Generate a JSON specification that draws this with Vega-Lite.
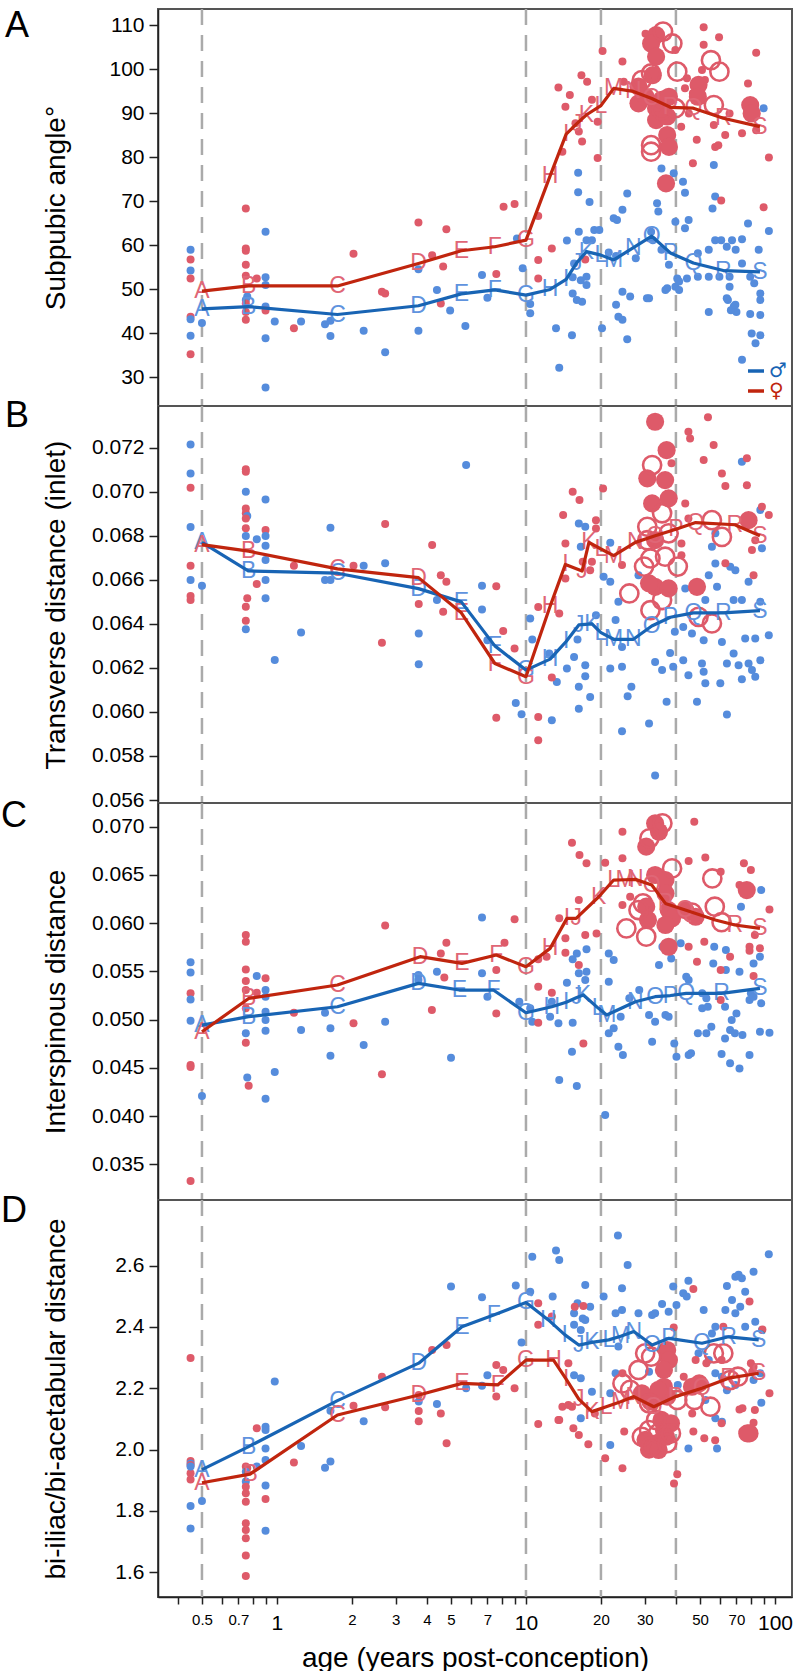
{
"$schema":"https://vega.github.io/schema/vega-lite/v6.json",
"background":"white",
"padding":{"left":0,"top":6,"right":0,"bottom":0},
"bounds":"flush",
"spacing":0,
"config":{"view":{"stroke":"#555","strokeWidth":2},"font":"Liberation Sans","axis":{"labelFont":"Liberation Sans","titleFont":"Liberation Sans","labelColor":"#000","titleColor":"#000","titleFontWeight":"normal","domainColor":"#222","tickColor":"#222","domainWidth":1.5,"tickWidth":1.5,"grid":false,"labelOverlap":false},"title":{"font":"Liberation Sans","fontWeight":"normal","color":"#000"}},
"resolve":{"scale":{"color":"independent"},"legend":{"color":"independent"}},
"datasets":{
"a":[{"s":"m","x":0.45,"y":58.9},{"s":"f","x":0.45,"y":56.7},{"s":"m","x":0.45,"y":54.2},{"s":"f","x":0.45,"y":52.4},{"s":"f","x":0.45,"y":43.7},{"s":"m","x":0.45,"y":43.1},{"s":"m","x":0.45,"y":39.4},{"s":"f","x":0.45,"y":35.2},{"s":"m","x":0.5,"y":42.3},{"s":"f","x":0.75,"y":68.3},{"s":"f","x":0.75,"y":59.2},{"s":"f","x":0.75,"y":58.7},{"s":"f","x":0.75,"y":55.5},{"s":"f","x":0.75,"y":53.0},{"s":"f","x":0.83,"y":52.4},{"s":"m","x":0.76,"y":48.3},{"s":"m","x":0.75,"y":47.5},{"s":"f","x":0.75,"y":46.7},{"s":"f","x":0.75,"y":44.8},{"s":"f","x":0.75,"y":43.0},{"s":"m","x":0.9,"y":63.0},{"s":"m","x":0.9,"y":52.7},{"s":"m","x":0.9,"y":50.9},{"s":"m","x":0.9,"y":46.0},{"s":"f","x":0.9,"y":45.1},{"s":"m","x":0.9,"y":38.8},{"s":"m","x":0.9,"y":27.6},{"s":"m","x":0.98,"y":42.6},{"s":"f","x":1.17,"y":41.1},{"s":"m","x":1.25,"y":42.6},{"s":"m","x":1.56,"y":42.0},{"s":"m","x":1.64,"y":42.8},{"s":"m","x":1.64,"y":39.3},{"s":"f","x":2.03,"y":58.0},{"s":"m","x":2.23,"y":40.5},{"s":"f","x":2.64,"y":49.4},{"s":"f","x":2.72,"y":49.0},{"s":"m","x":2.72,"y":35.6},
{"s":"m","x":3.7,"y":54.5},{"s":"m","x":3.7,"y":40.5},{"s":"m","x":4.39,"y":49.8},{"s":"m","x":4.96,"y":45.1},{"s":"m","x":5.71,"y":41.6},{"s":"m","x":6.66,"y":53.2},{"s":"m","x":7.0,"y":48.0},{"s":"m","x":9.2,"y":61.5},{"s":"m","x":9.7,"y":54.7},{"s":"m","x":10.4,"y":46.6},{"s":"m","x":10.4,"y":44.5},{"s":"m","x":13.2,"y":41.1},{"s":"m","x":13.6,"y":32.1},{"s":"m","x":15.3,"y":39.5},{"s":"m","x":14.6,"y":61.0},{"s":"m","x":16.2,"y":76.4},{"s":"m","x":16.2,"y":72.0},{"s":"m","x":18,"y":69.8},{"s":"m","x":15.4,"y":52.7},{"s":"m","x":16.6,"y":52.0},{"s":"m","x":17.5,"y":50.9},{"s":"m","x":15.4,"y":49.0},{"s":"m","x":16,"y":47.5},{"s":"m","x":16.8,"y":47.1},{"s":"m","x":15.6,"y":55.8},{"s":"m","x":17.5,"y":52.8},{"s":"m","x":18.8,"y":63.4},{"s":"m","x":17.5,"y":61.1},{"s":"m","x":16.3,"y":63.0},{"s":"m","x":20.2,"y":41.1},{"s":"m","x":21.5,"y":58.3},{"s":"m","x":23,"y":57.5},{"s":"m","x":27.6,"y":57.0},{"s":"m","x":25.5,"y":38.6},{"s":"m","x":31.2,"y":47.9},
{"s":"m","x":25.5,"y":71.7},{"s":"m","x":24.4,"y":68.0},{"s":"m","x":22.5,"y":66.1},{"s":"m","x":23.2,"y":65.7},{"s":"m","x":19.7,"y":63.4},{"s":"m","x":18.4,"y":61.1},{"s":"m","x":33.6,"y":69.5},{"s":"m","x":34,"y":67.6},{"s":"m","x":35,"y":77.4},{"s":"m","x":39.2,"y":76.3},{"s":"m","x":42.7,"y":74.4},{"s":"m","x":43.5,"y":71.9},{"s":"m","x":39.8,"y":65.3},{"s":"m","x":45,"y":65.7},{"s":"m","x":43.5,"y":63.8},{"s":"m","x":56.8,"y":78.2},{"s":"m","x":57.5,"y":71.0},{"s":"m","x":56.1,"y":68.3},{"s":"m","x":77.9,"y":64.9},{"s":"m","x":90,"y":91.1},{"s":"m","x":94.5,"y":63.2},{"s":"m","x":60.8,"y":61.1},{"s":"m","x":67.2,"y":61.1},{"s":"m","x":73.7,"y":61.3},{"s":"m","x":86,"y":58.9},{"s":"m","x":31.8,"y":63.0},{"s":"m","x":32.3,"y":61.1},{"s":"m","x":35,"y":58.9},{"s":"m","x":37.5,"y":55.5},{"s":"m","x":40.5,"y":52.4},{"s":"m","x":41.2,"y":51.7},{"s":"m","x":39.8,"y":50.5},{"s":"m","x":36.3,"y":49.8},{"s":"m","x":41.2,"y":49.8},{"s":"m","x":44.3,"y":52.4},{"s":"m","x":49,"y":52.8},{"s":"m","x":54.2,"y":52.8},{"s":"m","x":59.8,"y":52.8},{"s":"m","x":65.7,"y":52.8},{"s":"m","x":49,"y":58.1},{"s":"m","x":54.2,"y":58.9},{"s":"m","x":57.5,"y":61.1},{"s":"m","x":64,"y":59.6},{"s":"m","x":69.5,"y":58.9},{"s":"m","x":73.7,"y":55.8},{"s":"m","x":79.5,"y":52.8},{"s":"m","x":82.5,"y":51.3},{"s":"m","x":65.7,"y":50.5},{"s":"m","x":64.7,"y":47.5},{"s":"m","x":54.2,"y":44.8},{"s":"m","x":68.3,"y":46.0},{"s":"m","x":70,"y":44.8},{"s":"m","x":79.5,"y":44.3},{"s":"m","x":87.3,"y":44.1},{"s":"m","x":87.3,"y":49.0},{"s":"m","x":87.3,"y":47.5},{"s":"m","x":80.6,"y":39.9},{"s":"m","x":87.3,"y":39.5},{"s":"m","x":26.2,"y":48.3},{"s":"m","x":24.4,"y":49.4},{"s":"m","x":23,"y":46.4},{"s":"m","x":23.5,"y":43.7},{"s":"m","x":24.4,"y":43.0},{"s":"m","x":30.6,"y":47.9},{"s":"m","x":36.9,"y":50.2},{"s":"m","x":73.7,"y":33.9},{"s":"m","x":83.5,"y":37.7},{"s":"m","x":64,"y":47.9},{"s":"m","x":66.5,"y":45.2},{"s":"m","x":69.3,"y":46.4},
{"s":"f","x":3.7,"y":65.1},{"s":"f","x":4.2,"y":57.7},{"s":"f","x":4.79,"y":63.6},{"s":"f","x":4.65,"y":55.1},{"s":"f","x":4.55,"y":46.7},{"s":"f","x":7.6,"y":53.4},{"s":"f","x":8.13,"y":68.7},{"s":"f","x":9.0,"y":69.3},{"s":"f","x":11.2,"y":66.6},{"s":"f","x":12.7,"y":59.2},{"s":"f","x":11.2,"y":56.6},{"s":"f","x":11.2,"y":52.4},{"s":"f","x":17.3,"y":56.7},
{"s":"f","x":13.5,"y":95.8},{"s":"f","x":15.0,"y":94.1},{"s":"f","x":14.4,"y":91.4},{"s":"f","x":16.7,"y":98.6},{"s":"f","x":17.6,"y":97.1},{"s":"f","x":18.4,"y":93.0},{"s":"f","x":20.3,"y":104.1},{"s":"f","x":19.4,"y":88.0},{"s":"f","x":15.8,"y":87.7},{"s":"f","x":16.3,"y":85.8},{"s":"f","x":16.8,"y":83.5},{"s":"f","x":14,"y":81.2},{"s":"f","x":19.4,"y":79.8},{"s":"f","x":24.4,"y":101.7},{"s":"f","x":24.7,"y":97.1},{"s":"f","x":30.2,"y":108.0},{"s":"f","x":39.8,"y":104.3},{"s":"f","x":51.7,"y":109.5},{"s":"f","x":59.6,"y":107.2},{"s":"f","x":51.7,"y":105.5},{"s":"f","x":50.9,"y":99.8},{"s":"f","x":44.3,"y":97.9},{"s":"f","x":43.5,"y":95.6},{"s":"f","x":52.3,"y":97.5},{"s":"f","x":46.8,"y":94.5},{"s":"f","x":45.1,"y":89.9},{"s":"f","x":42,"y":86.9},{"s":"f","x":48.5,"y":83.9},{"s":"f","x":46.8,"y":78.6},{"s":"f","x":57.5,"y":82.3},{"s":"f","x":59.2,"y":82.7},{"s":"f","x":56.8,"y":87.3},{"s":"f","x":63.1,"y":85.0},{"s":"f","x":73.7,"y":85.4},{"s":"f","x":65.7,"y":89.9},{"s":"f","x":77.9,"y":96.7},{"s":"f","x":84,"y":103.7},{"s":"f","x":84,"y":86.1},{"s":"f","x":94.5,"y":79.9},{"s":"f","x":90,"y":68.6},{"s":"f","x":60.8,"y":70.1},
{"s":"f","x":33.3,"y":107.7,"k":"b"},{"s":"f","x":31.8,"y":105.8,"k":"b"},{"s":"f","x":33.3,"y":102.8,"k":"b"},{"s":"f","x":32.3,"y":98.6,"k":"b"},{"s":"f","x":28.3,"y":96.0,"k":"b"},{"s":"f","x":28.3,"y":92.2,"k":"b"},{"s":"f","x":30.2,"y":93.7,"k":"b"},{"s":"f","x":33.3,"y":91.1,"k":"b"},{"s":"f","x":35.0,"y":93.0,"k":"b"},{"s":"f","x":37.5,"y":93.7,"k":"b"},{"s":"f","x":33.3,"y":88.4,"k":"b"},{"s":"f","x":36.9,"y":89.2,"k":"b"},{"s":"f","x":36.9,"y":85.0,"k":"b"},{"s":"f","x":37.5,"y":82.3,"k":"b"},{"s":"f","x":49.3,"y":96.4,"k":"b"},{"s":"f","x":49,"y":93.7,"k":"b"},{"s":"f","x":79.5,"y":91.8,"k":"b"},{"s":"f","x":80.6,"y":89.9,"k":"b"},{"s":"f","x":36.5,"y":74.0,"k":"b"},
{"s":"f","x":35.5,"y":108.5,"k":"o"},{"s":"f","x":38.7,"y":105.8,"k":"o"},{"s":"f","x":31.8,"y":99.0,"k":"o"},{"s":"f","x":29.2,"y":97.5,"k":"o"},{"s":"f","x":35,"y":90.7,"k":"o"},{"s":"f","x":39.8,"y":91.1,"k":"o"},{"s":"f","x":31.8,"y":82.7,"k":"o"},{"s":"f","x":31.8,"y":81.2,"k":"o"},{"s":"f","x":40.5,"y":99.4,"k":"o"},{"s":"f","x":55.3,"y":102.0,"k":"o"},{"s":"f","x":59.8,"y":99.4,"k":"o"},{"s":"f","x":56.8,"y":91.8,"k":"o"}],
"la":[{"s":"m","l":"A","x":0.5,"y":45.5},{"s":"m","l":"B","x":0.77,"y":46.0},{"s":"m","l":"C","x":1.75,"y":44.2},{"s":"m","l":"D","x":3.7,"y":46.2},{"s":"m","l":"E","x":5.5,"y":48.9},{"s":"m","l":"F","x":7.5,"y":49.8},{"s":"m","l":"G","x":10,"y":48.6},{"s":"m","l":"H","x":12.5,"y":49.9},{"s":"m","l":"I","x":14.5,"y":52.2},{"s":"m","l":"J","x":16,"y":56.0},{"s":"m","l":"K","x":17.5,"y":58.5},{"s":"m","l":"L","x":20,"y":57.7},{"s":"m","l":"M","x":22.5,"y":56.6},{"s":"m","l":"N","x":27,"y":59.4},{"s":"m","l":"O","x":32,"y":62.0},{"s":"m","l":"P","x":38,"y":58.2},{"s":"m","l":"Q","x":47,"y":55.9},{"s":"m","l":"R","x":62,"y":54.2},{"s":"m","l":"S","x":87,"y":53.9},
{"s":"f","l":"A","x":0.5,"y":49.5},{"s":"f","l":"B","x":0.77,"y":50.7},{"s":"f","l":"C","x":1.75,"y":50.7},{"s":"f","l":"D","x":3.7,"y":55.8},{"s":"f","l":"E","x":5.5,"y":58.7},{"s":"f","l":"F","x":7.5,"y":59.6},{"s":"f","l":"G","x":10,"y":61.1},{"s":"f","l":"H","x":12.5,"y":75.7},{"s":"f","l":"I","x":14.5,"y":85.2},{"s":"f","l":"J","x":16,"y":87.6},{"s":"f","l":"K","x":17.5,"y":89.6},{"s":"f","l":"L","x":20,"y":91.7},{"s":"f","l":"M","x":22.5,"y":95.6},{"s":"f","l":"N","x":27,"y":94.9},{"s":"f","l":"O","x":32,"y":93.3},{"s":"f","l":"P","x":38,"y":91.3},{"s":"f","l":"Q","x":47,"y":91.1},{"s":"f","l":"R","x":62,"y":88.8},{"s":"f","l":"S","x":87,"y":86.9}],
"b":[{"s":"m","x":0.45,"y":0.07215},{"s":"m","x":0.45,"y":0.07083},{"s":"f","x":0.45,"y":0.07018},{"s":"m","x":0.45,"y":0.0684},{"s":"f","x":0.45,"y":0.06664},{"s":"m","x":0.45,"y":0.06599},{"s":"f","x":0.45,"y":0.06526},{"s":"f","x":0.45,"y":0.06508},{"s":"m","x":0.5,"y":0.06573},{"s":"f","x":0.75,"y":0.07102},{"s":"f","x":0.75,"y":0.07091},{"s":"m","x":0.75,"y":0.07},{"s":"f","x":0.75,"y":0.06924},{"s":"f","x":0.75,"y":0.06902},{"s":"m","x":0.76,"y":0.06890},{"s":"f","x":0.75,"y":0.06879},{"s":"f","x":0.75,"y":0.06834},{"s":"m","x":0.75,"y":0.06799},{"s":"m","x":0.83,"y":0.06784},{"s":"f","x":0.76,"y":0.06516},{"s":"f","x":0.75,"y":0.06478},{"s":"f","x":0.75,"y":0.06414},{"s":"m","x":0.75,"y":0.06375},{"s":"f","x":0.83,"y":0.06581},{"s":"m","x":0.9,"y":0.06965},{"s":"f","x":0.9,"y":0.06826},{"s":"m","x":0.9,"y":0.06799},{"s":"m","x":0.9,"y":0.06755},{"s":"m","x":0.9,"y":0.0669},{"s":"m","x":0.9,"y":0.06599},{"s":"m","x":0.9,"y":0.06516},{"s":"m","x":0.98,"y":0.06236},{"s":"f","x":1.17,"y":0.06664},{"s":"m","x":1.25,"y":0.06361},{"s":"m","x":1.56,"y":0.06599},{"s":"m","x":1.64,"y":0.06599},{"s":"m","x":1.64,"y":0.06837},{"s":"f","x":2.03,"y":0.06664},{"s":"m","x":2.23,"y":0.06664},{"s":"f","x":2.72,"y":0.06853},{"s":"m","x":2.72,"y":0.06675},{"s":"f","x":2.64,"y":0.06314},
{"s":"m","x":5.75,"y":0.07121},{"s":"m","x":3.71,"y":0.06356},{"s":"m","x":3.71,"y":0.06217},{"s":"m","x":4.39,"y":0.06508},{"s":"m","x":6.66,"y":0.06573},{"s":"m","x":6.66,"y":0.06465},{"s":"m","x":7.0,"y":0.06326},{"s":"m","x":9.1,"y":0.06041},{"s":"m","x":9.6,"y":0.05989},{"s":"m","x":10.4,"y":0.06424},{"s":"m","x":10.6,"y":0.06329},{"s":"m","x":12.4,"y":0.06265},{"s":"m","x":13.3,"y":0.06136},{"s":"m","x":12.7,"y":0.05962},{"s":"m","x":14.6,"y":0.06197},{"s":"m","x":15.6,"y":0.0625},{"s":"m","x":16.3,"y":0.06114},{"s":"m","x":16.3,"y":0.06015},{"s":"m","x":16.3,"y":0.06856},{"s":"m","x":17.3,"y":0.06841},{"s":"m","x":16.6,"y":0.0675},{"s":"m","x":16.1,"y":0.06329},{"s":"m","x":17.3,"y":0.06212},{"s":"m","x":17.3,"y":0.06162},{"s":"m","x":18.1,"y":0.06068},{"s":"m","x":19.1,"y":0.06439},{"s":"m","x":21.8,"y":0.06768},{"s":"m","x":20.5,"y":0.06614},{"s":"m","x":21.8,"y":0.06591},{"s":"m","x":21.8,"y":0.06197},{"s":"m","x":22.9,"y":0.06417},{"s":"m","x":23.5,"y":0.065},{"s":"m","x":24.3,"y":0.06295},{"s":"m","x":24.3,"y":0.06205},{"s":"m","x":24.3,"y":0.05912},{"s":"m","x":25.6,"y":0.06071},{"s":"m","x":26.5,"y":0.06114},{"s":"m","x":28.3,"y":0.06621},{"s":"m","x":31.2,"y":0.05947},{"s":"m","x":33,"y":0.05711},{"s":"m","x":33,"y":0.06227},{"s":"m","x":35.2,"y":0.0619},{"s":"m","x":36.7,"y":0.06046},{"s":"m","x":37.9,"y":0.06268},{"s":"m","x":39,"y":0.06205},{"s":"m","x":39.6,"y":0.06364},{"s":"m","x":42.8,"y":0.06386},{"s":"m","x":42.8,"y":0.06235},{"s":"m","x":44.9,"y":0.06167},{"s":"m","x":48.6,"y":0.06046},{"s":"m","x":46.4,"y":0.06356},{"s":"m","x":50.9,"y":0.0622},{"s":"m","x":51.7,"y":0.06182},{"s":"m","x":51.7,"y":0.06326},{"s":"m","x":52.5,"y":0.06508},{"s":"m","x":52.5,"y":0.0613},{"s":"m","x":60.3,"y":0.0613},{"s":"m","x":61.2,"y":0.06318},{"s":"m","x":64.1,"y":0.05988},{"s":"m","x":64.1,"y":0.0622},{"s":"m","x":68.2,"y":0.06265},{"s":"m","x":71.4,"y":0.06212},{"s":"m","x":73.6,"y":0.06148},{"s":"m","x":78.3,"y":0.0622},{"s":"m","x":80.8,"y":0.0619},{"s":"m","x":83.3,"y":0.0616},{"s":"m","x":87.3,"y":0.06235},{"s":"m","x":94.4,"y":0.06348},{"s":"m","x":75.9,"y":0.06333},{"s":"m","x":83.3,"y":0.06333},{"s":"m","x":68.2,"y":0.06508},{"s":"m","x":73.6,"y":0.06508},{"s":"m","x":87.3,"y":0.065},{"s":"m","x":57.6,"y":0.06811},{"s":"m","x":55.8,"y":0.0675},{"s":"m","x":57.6,"y":0.06674},{"s":"m","x":54.2,"y":0.06621},{"s":"m","x":66.1,"y":0.06659},{"s":"m","x":69.3,"y":0.06644},{"s":"m","x":73.6,"y":0.07136},{"s":"m","x":87.3,"y":0.06917},{"s":"m","x":88.6,"y":0.06743},{"s":"m","x":78.3,"y":0.06591},{"s":"m","x":58.5,"y":0.06568},{"s":"m","x":43.6,"y":0.06561},
{"s":"f","x":4.2,"y":0.06758},{"s":"f","x":4.55,"y":0.06621},{"s":"f","x":4.79,"y":0.06591},{"s":"f","x":3.71,"y":0.0649},{"s":"f","x":4.65,"y":0.06455},{"s":"f","x":7.6,"y":0.06571},{"s":"f","x":8.1,"y":0.06368},{"s":"f","x":9.0,"y":0.06288},{"s":"f","x":7.6,"y":0.05974},{"s":"f","x":11.2,"y":0.06477},{"s":"f","x":13.6,"y":0.06447},{"s":"f","x":11.2,"y":0.05977},{"s":"f","x":11.2,"y":0.05871},{"s":"f","x":12.7,"y":0.06156},{"s":"f","x":14.1,"y":0.06894},{"s":"f","x":15.4,"y":0.0700},{"s":"f","x":16.4,"y":0.06962},{"s":"f","x":14.4,"y":0.06765},{"s":"f","x":14.4,"y":0.06606},{"s":"f","x":16.9,"y":0.06682},{"s":"f","x":18.1,"y":0.06644},{"s":"f","x":18.4,"y":0.06682},{"s":"f","x":19.1,"y":0.06871},{"s":"f","x":19.1,"y":0.06833},{"s":"f","x":20.4,"y":0.07015},{"s":"f","x":24.3,"y":0.06667},{"s":"f","x":44.9,"y":0.07273},{"s":"f","x":45.6,"y":0.07242},{"s":"f","x":53.8,"y":0.07338},{"s":"f","x":56.7,"y":0.07212},{"s":"f","x":51.7,"y":0.07144},{"s":"f","x":61.2,"y":0.07083},{"s":"f","x":63.2,"y":0.07026},{"s":"f","x":77.1,"y":0.07152},{"s":"f","x":77.1,"y":0.0703},{"s":"f","x":43.6,"y":0.06947},{"s":"f","x":44.9,"y":0.06879},{"s":"f","x":88.6,"y":0.06932},{"s":"f","x":94.4,"y":0.06894},{"s":"f","x":83.3,"y":0.0678},{"s":"f","x":80.8,"y":0.06735},{"s":"f","x":82,"y":0.06621},{"s":"f","x":63.2,"y":0.06675},{"s":"f","x":42.1,"y":0.06712},{"s":"f","x":42.1,"y":0.06765},{"s":"f","x":38.4,"y":0.07129},
{"s":"f","x":33,"y":0.07318,"k":"b"},{"s":"f","x":36.7,"y":0.07189,"k":"b"},{"s":"f","x":30.7,"y":0.07061,"k":"b"},{"s":"f","x":36.2,"y":0.07053,"k":"b"},{"s":"f","x":32.1,"y":0.06947,"k":"b"},{"s":"f","x":37.4,"y":0.0697,"k":"b"},{"s":"f","x":33,"y":0.0678,"k":"b"},{"s":"f","x":33,"y":0.06568,"k":"b"},{"s":"f","x":31.2,"y":0.06584,"k":"b"},{"s":"f","x":37.4,"y":0.06561,"k":"b"},{"s":"f","x":48.6,"y":0.06568,"k":"b"},{"s":"f","x":78.3,"y":0.06871,"k":"b"},
{"s":"f","x":32.1,"y":0.07121,"k":"o"},{"s":"f","x":30.7,"y":0.06841,"k":"o"},{"s":"f","x":35.2,"y":0.06902,"k":"o"},{"s":"f","x":30.7,"y":0.0678,"k":"o"},{"s":"f","x":37.4,"y":0.06811,"k":"o"},{"s":"f","x":31.6,"y":0.06697,"k":"o"},{"s":"f","x":36.2,"y":0.06705,"k":"o"},{"s":"f","x":29.8,"y":0.0666,"k":"o"},{"s":"f","x":40.7,"y":0.0666,"k":"o"},{"s":"f","x":26,"y":0.06538,"k":"o"},{"s":"f","x":31.6,"y":0.06462,"k":"o"},{"s":"f","x":35.2,"y":0.06508,"k":"o"},{"s":"f","x":55.8,"y":0.06871,"k":"o"},{"s":"f","x":61.2,"y":0.06795,"k":"o"},{"s":"f","x":55.8,"y":0.06402,"k":"o"},{"s":"f","x":49.3,"y":0.06432,"k":"o"}],
"lb":[{"s":"m","l":"A","x":0.5,"y":0.0677},{"s":"m","l":"B","x":0.77,"y":0.0664},{"s":"m","l":"C","x":1.75,"y":0.0663},{"s":"m","l":"D","x":3.7,"y":0.0656},{"s":"m","l":"E","x":5.5,"y":0.0650},{"s":"m","l":"F","x":7.5,"y":0.0630},{"s":"m","l":"G","x":10,"y":0.0619},{"s":"m","l":"H","x":12.5,"y":0.0624},{"s":"m","l":"I","x":14.5,"y":0.0632},{"s":"m","l":"J","x":16.3,"y":0.06395},{"s":"m","l":"K","x":18.4,"y":0.0640},{"s":"m","l":"L","x":20,"y":0.0636},{"s":"m","l":"M","x":22.5,"y":0.0633},{"s":"m","l":"N","x":27,"y":0.0633},{"s":"m","l":"O","x":32,"y":0.0639},{"s":"m","l":"P","x":38,"y":0.0643},{"s":"m","l":"Q","x":47,"y":0.0645},{"s":"m","l":"R","x":62,"y":0.0645},{"s":"m","l":"S","x":87,"y":0.0646},
{"s":"f","l":"A","x":0.5,"y":0.0676},{"s":"f","l":"B","x":0.77,"y":0.0673},{"s":"f","l":"C","x":1.75,"y":0.0665},{"s":"f","l":"D","x":3.7,"y":0.0661},{"s":"f","l":"E","x":5.5,"y":0.0645},{"s":"f","l":"F","x":7.5,"y":0.0622},{"s":"f","l":"G","x":10,"y":0.0616},{"s":"f","l":"H","x":12.5,"y":0.0648},{"s":"f","l":"I","x":14.4,"y":0.0667},{"s":"f","l":"J","x":16.8,"y":0.0664},{"s":"f","l":"K","x":17.9,"y":0.0677},{"s":"f","l":"L","x":20,"y":0.0674},{"s":"f","l":"M","x":22.5,"y":0.0671},{"s":"f","l":"N","x":27.5,"y":0.0677},{"s":"f","l":"O","x":33,"y":0.0680},{"s":"f","l":"P","x":40,"y":0.0683},{"s":"f","l":"Q","x":48,"y":0.0686},{"s":"f","l":"R","x":69,"y":0.0685},{"s":"f","l":"S","x":87,"y":0.0680}],
"c":[{"s":"m","x":0.45,"y":0.05594},{"s":"m","x":0.45,"y":0.0549},{"s":"f","x":0.45,"y":0.05273},{"s":"m","x":0.45,"y":0.0521},{"s":"m","x":0.45,"y":0.04989},{"s":"f","x":0.45,"y":0.0453},{"s":"f","x":0.45,"y":0.0451},{"s":"f","x":0.45,"y":0.03327},{"s":"m","x":0.5,"y":0.04208},{"s":"f","x":0.75,"y":0.05877},{"s":"f","x":0.75,"y":0.05808},{"s":"f","x":0.75,"y":0.05521},{"s":"f","x":0.75,"y":0.054},{"s":"f","x":0.75,"y":0.05307},{"s":"m","x":0.83,"y":0.05452},{"s":"f","x":0.83,"y":0.0528},{"s":"f","x":0.75,"y":0.05117},{"s":"m","x":0.75,"y":0.04858},{"s":"f","x":0.75,"y":0.04761},{"s":"m","x":0.76,"y":0.0440},{"s":"f","x":0.77,"y":0.04315},{"s":"m","x":0.9,"y":0.05307},{"s":"m","x":0.9,"y":0.05238},{"s":"f","x":0.9,"y":0.05428},{"s":"m","x":0.9,"y":0.05083},{"s":"m","x":0.9,"y":0.04996},{"s":"m","x":0.9,"y":0.04886},{"s":"m","x":0.9,"y":0.04181},{"s":"m","x":0.98,"y":0.04457},{"s":"f","x":1.17,"y":0.05072},{"s":"m","x":1.25,"y":0.04892},{"s":"m","x":1.56,"y":0.05072},{"s":"m","x":1.64,"y":0.0491},{"s":"m","x":1.64,"y":0.04626},{"s":"f","x":2.03,"y":0.04962},{"s":"m","x":2.23,"y":0.04737},{"s":"f","x":2.72,"y":0.05977},{"s":"m","x":2.72,"y":0.04979},{"s":"f","x":2.64,"y":0.04433},
{"s":"m","x":6.66,"y":0.0606},{"s":"m","x":3.7,"y":0.05462},{"s":"m","x":3.7,"y":0.05411},{"s":"m","x":4.39,"y":0.05497},{"s":"m","x":5.0,"y":0.04606},{"s":"m","x":6.66,"y":0.0548},{"s":"m","x":7.0,"y":0.05238},{"s":"m","x":9.4,"y":0.05186},{"s":"m","x":10.4,"y":0.05117},{"s":"m","x":10.6,"y":0.04979},{"s":"m","x":12.7,"y":0.05186},{"s":"m","x":12.5,"y":0.05031},{"s":"m","x":13.5,"y":0.04962},{"s":"m","x":13.6,"y":0.04374},{"s":"m","x":16,"y":0.04312},{"s":"m","x":20.8,"y":0.04011},{"s":"m","x":15.3,"y":0.04668},{"s":"m","x":15.4,"y":0.04968},{"s":"m","x":14.6,"y":0.05383},{"s":"m","x":15.4,"y":0.05625},{"s":"m","x":16,"y":0.05687},{"s":"m","x":17.5,"y":0.05729},{"s":"m","x":16.3,"y":0.0548},{"s":"m","x":17.3,"y":0.05411},{"s":"m","x":17.5,"y":0.05497},{"s":"m","x":21.5,"y":0.05687},{"s":"m","x":22.5,"y":0.05618},{"s":"m","x":21.5,"y":0.05393},{"s":"m","x":21.5,"y":0.04858},{"s":"m","x":22.5,"y":0.0491},{"s":"m","x":23.5,"y":0.0472},{"s":"m","x":24.5,"y":0.04633},{"s":"m","x":24,"y":0.05031},{"s":"m","x":26,"y":0.05221},{"s":"m","x":28.5,"y":0.05307},{"s":"m","x":31.2,"y":0.05048},{"s":"m","x":33,"y":0.04979},{"s":"m","x":32.1,"y":0.04772},{"s":"m","x":34.2,"y":0.05566},{"s":"m","x":35.3,"y":0.05756},{"s":"m","x":38.3,"y":0.05635},{"s":"m","x":36.3,"y":0.05048},{"s":"m","x":37.4,"y":0.0503},{"s":"m","x":39.4,"y":0.04754},{"s":"m","x":40.2,"y":0.04616},{"s":"m","x":45,"y":0.04633},{"s":"m","x":46,"y":0.04651},{"s":"m","x":41.8,"y":0.05791},{"s":"m","x":45,"y":0.05411},{"s":"m","x":44,"y":0.05445},{"s":"m","x":49,"y":0.04858},{"s":"m","x":53,"y":0.04858},{"s":"m","x":51,"y":0.05117},{"s":"m","x":53.7,"y":0.05134},{"s":"m","x":55.5,"y":0.04927},{"s":"m","x":56.5,"y":0.05583},{"s":"m","x":57,"y":0.05756},{"s":"m","x":63.5,"y":0.05722},{"s":"m","x":63.5,"y":0.05514},{"s":"m","x":63,"y":0.05134},{"s":"m","x":70,"y":0.05065},{"s":"m","x":67,"y":0.04996},{"s":"m","x":66,"y":0.04892},{"s":"m","x":63,"y":0.04806},{"s":"m","x":69,"y":0.04858},{"s":"m","x":74,"y":0.0484},{"s":"m","x":61,"y":0.04644},{"s":"m","x":66,"y":0.04547},{"s":"m","x":72,"y":0.04495},{"s":"m","x":79,"y":0.04633},{"s":"m","x":72,"y":0.05497},{"s":"m","x":82,"y":0.05583},{"s":"m","x":87,"y":0.05653},{"s":"m","x":88,"y":0.06343},{"s":"m","x":73,"y":0.06171},{"s":"m","x":88,"y":0.05169},{"s":"m","x":79,"y":0.05203},{"s":"m","x":87,"y":0.04875},{"s":"m","x":95,"y":0.04865},{"s":"m","x":80,"y":0.05273},{"s":"m","x":82,"y":0.05238},{"s":"m","x":51,"y":0.05273},{"s":"m","x":53,"y":0.05221},
{"s":"f","x":4.19,"y":0.051},{"s":"f","x":4.55,"y":0.05687},{"s":"f","x":4.79,"y":0.05798},{"s":"f","x":4.7,"y":0.05438},{"s":"f","x":7.6,"y":0.05514},{"s":"f","x":8.2,"y":0.05798},{"s":"f","x":7.6,"y":0.05065},{"s":"f","x":9.0,"y":0.0604},{"s":"f","x":11.2,"y":0.05342},{"s":"f","x":12.7,"y":0.0528},{"s":"f","x":11.2,"y":0.04968},{"s":"f","x":11.2,"y":0.05625},{"s":"f","x":12.1,"y":0.05653},{"s":"f","x":13.6,"y":0.0605},{"s":"f","x":14.4,"y":0.05843},{"s":"f","x":14.4,"y":0.05694},{"s":"f","x":15.3,"y":0.06834},{"s":"f","x":16.4,"y":0.06706},{"s":"f","x":17.5,"y":0.0662},{"s":"f","x":20.8,"y":0.06627},{"s":"f","x":16.3,"y":0.0624},{"s":"f","x":17.3,"y":0.05877},{"s":"f","x":19.2,"y":0.05894},{"s":"f","x":16.3,"y":0.05566},{"s":"f","x":17,"y":0.04754},{"s":"f","x":24.4,"y":0.06948},{"s":"f","x":24.4,"y":0.06672},{"s":"f","x":24.4,"y":0.06188},{"s":"f","x":26.2,"y":0.06274},{"s":"f","x":47.4,"y":0.07052},{"s":"f","x":52.5,"y":0.06682},{"s":"f","x":45,"y":0.06644},{"s":"f","x":60.5,"y":0.06534},{"s":"f","x":52,"y":0.05808},{"s":"f","x":45,"y":0.05756},{"s":"f","x":48.6,"y":0.05601},{"s":"f","x":66,"y":0.05653},{"s":"f","x":60.5,"y":0.05203},{"s":"f","x":75,"y":0.0662},{"s":"f","x":80,"y":0.06551},{"s":"f","x":72,"y":0.06395},{"s":"f","x":95,"y":0.06143},{"s":"f","x":79,"y":0.05756},{"s":"f","x":79,"y":0.05715},{"s":"f","x":87,"y":0.05739},{"s":"f","x":83,"y":0.05877},{"s":"f","x":82,"y":0.05452},{"s":"f","x":60.5,"y":0.05514},
{"s":"f","x":30.4,"y":0.06793,"k":"b"},{"s":"f","x":33,"y":0.07035,"k":"b"},{"s":"f","x":34.2,"y":0.06948,"k":"b"},{"s":"f","x":30.4,"y":0.06171,"k":"b"},{"s":"f","x":30.9,"y":0.06033,"k":"b"},{"s":"f","x":33,"y":0.06499,"k":"b"},{"s":"f","x":36.3,"y":0.06447,"k":"b"},{"s":"f","x":36.3,"y":0.06309,"k":"b"},{"s":"f","x":37.4,"y":0.06136,"k":"b"},{"s":"f","x":38.6,"y":0.0605,"k":"b"},{"s":"f","x":36.3,"y":0.05981,"k":"b"},{"s":"f","x":37.4,"y":0.05756,"k":"b"},{"s":"f","x":48,"y":0.06067,"k":"b"},{"s":"f","x":43.6,"y":0.06136,"k":"b"},{"s":"f","x":77,"y":0.06343,"k":"b"},
{"s":"f","x":31.3,"y":0.06879,"k":"o"},{"s":"f","x":35.3,"y":0.07035,"k":"o"},{"s":"f","x":29.5,"y":0.06205,"k":"o"},{"s":"f","x":28.3,"y":0.06136,"k":"o"},{"s":"f","x":25.3,"y":0.05946,"k":"o"},{"s":"f","x":30.4,"y":0.0586,"k":"o"},{"s":"f","x":38.6,"y":0.06568,"k":"o"},{"s":"f","x":56,"y":0.06464,"k":"o"},{"s":"f","x":57.3,"y":0.06171,"k":"o"},{"s":"f","x":46.4,"y":0.0611,"k":"o"},{"s":"f","x":61,"y":0.0601,"k":"o"}],
"lc":[{"s":"m","l":"A","x":0.5,"y":0.04944},{"s":"m","l":"B","x":0.77,"y":0.05031},{"s":"m","l":"C","x":1.75,"y":0.05134},{"s":"m","l":"D","x":3.7,"y":0.05376},{"s":"m","l":"E","x":5.4,"y":0.05307},{"s":"m","l":"F","x":7.4,"y":0.05307},{"s":"m","l":"G","x":10,"y":0.05072},{"s":"m","l":"H","x":12.7,"y":0.05134},{"s":"m","l":"I","x":14.5,"y":0.0518},{"s":"m","l":"J","x":16,"y":0.0523},{"s":"m","l":"K","x":17,"y":0.05255},{"s":"m","l":"L","x":19.5,"y":0.0512},{"s":"m","l":"M","x":21.1,"y":0.05048},{"s":"m","l":"N","x":27.5,"y":0.05186},{"s":"m","l":"O","x":33,"y":0.05238},{"s":"m","l":"P","x":38,"y":0.0525},{"s":"m","l":"Q","x":44,"y":0.05273},{"s":"m","l":"R","x":61,"y":0.05273},{"s":"m","l":"S","x":87,"y":0.05324},
{"s":"f","l":"A","x":0.5,"y":0.04875},{"s":"f","l":"B","x":0.77,"y":0.0522},{"s":"f","l":"C","x":1.75,"y":0.05359},{"s":"f","l":"D","x":3.76,"y":0.05653},{"s":"f","l":"E","x":5.53,"y":0.05583},{"s":"f","l":"F","x":7.6,"y":0.0567},{"s":"f","l":"G","x":10,"y":0.05549},{"s":"f","l":"H","x":12.5,"y":0.05739},{"s":"f","l":"I","x":14.6,"y":0.0605},{"s":"f","l":"J","x":15.9,"y":0.0605},{"s":"f","l":"K","x":19.6,"y":0.06274},{"s":"f","l":"L","x":22.5,"y":0.06447},{"s":"f","l":"M","x":25,"y":0.0645},{"s":"f","l":"N","x":27.5,"y":0.06454},{"s":"f","l":"O","x":32,"y":0.06395},{"s":"f","l":"P","x":36.3,"y":0.06205},{"s":"f","l":"Q","x":43.6,"y":0.06136},{"s":"f","l":"","x":57.6,"y":0.06033},{"s":"f","l":"R","x":69,"y":0.05981},{"s":"f","l":"S","x":87,"y":0.05946}],
"d":[{"s":"f","x":0.45,"y":2.299},{"s":"f","x":0.45,"y":1.963},{"s":"m","x":0.45,"y":1.955},{"s":"f","x":0.45,"y":1.95},{"s":"f","x":0.45,"y":1.923},{"s":"f","x":0.45,"y":1.903},{"s":"m","x":0.45,"y":1.945},{"s":"m","x":0.45,"y":1.816},{"s":"m","x":0.45,"y":1.743},{"s":"m","x":0.5,"y":1.833},{"s":"f","x":0.75,"y":1.945},{"s":"f","x":0.76,"y":1.94},{"s":"m","x":0.75,"y":1.928},{"s":"m","x":0.75,"y":1.896},{"s":"f","x":0.75,"y":1.879},{"s":"f","x":0.75,"y":1.858},{"s":"f","x":0.75,"y":1.83},{"s":"f","x":0.75,"y":1.76},{"s":"f","x":0.75,"y":1.738},{"s":"f","x":0.75,"y":1.711},{"s":"f","x":0.75,"y":1.655},{"s":"f","x":0.75,"y":1.588},{"s":"f","x":0.83,"y":2.07},{"s":"m","x":0.83,"y":1.945},{"s":"m","x":0.9,"y":2.075},{"s":"m","x":0.9,"y":2.064},{"s":"m","x":0.9,"y":2.004},{"s":"m","x":0.9,"y":1.966},{"s":"m","x":0.9,"y":1.883},{"s":"f","x":0.9,"y":1.839},{"s":"m","x":0.9,"y":1.736},{"s":"m","x":0.98,"y":2.222},{"s":"f","x":1.17,"y":1.958},{"s":"m","x":1.25,"y":2.012},{"s":"m","x":1.56,"y":1.941},{"s":"m","x":1.64,"y":1.961},{"s":"m","x":1.64,"y":2.127},{"s":"f","x":2.03,"y":2.143},{"s":"m","x":2.23,"y":2.093},{"s":"f","x":2.64,"y":2.238},{"s":"f","x":2.72,"y":2.138},
{"s":"m","x":5.0,"y":2.532},{"s":"m","x":6.66,"y":2.497},{"s":"m","x":9.1,"y":2.535},{"s":"m","x":10.4,"y":2.515},{"s":"m","x":10.6,"y":2.629},{"s":"m","x":13.2,"y":2.649},{"s":"m","x":13.6,"y":2.618},{"s":"m","x":12.8,"y":2.499},{"s":"m","x":9.6,"y":2.349},{"s":"m","x":7.0,"y":2.243},{"s":"m","x":6.66,"y":2.208},{"s":"m","x":5.75,"y":2.2},{"s":"m","x":4.39,"y":2.149},{"s":"m","x":3.71,"y":2.157},{"s":"m","x":23.4,"y":2.698},{"s":"m","x":25.6,"y":2.602},{"s":"m","x":17.3,"y":2.537},{"s":"m","x":20.5,"y":2.499},{"s":"m","x":24.3,"y":2.526},{"s":"m","x":16.1,"y":2.477},{"s":"m","x":15.6,"y":2.445},{"s":"m","x":18.1,"y":2.466},{"s":"m","x":16.9,"y":2.428},{"s":"m","x":17.3,"y":2.423},{"s":"m","x":15.6,"y":2.407},{"s":"m","x":16.6,"y":2.39},{"s":"m","x":22.9,"y":2.445},{"s":"m","x":24.3,"y":2.455},{"s":"m","x":28.3,"y":2.445},{"s":"m","x":32.1,"y":2.439},{"s":"m","x":33,"y":2.445},{"s":"m","x":35.2,"y":2.475},{"s":"m","x":37.4,"y":2.45},{"s":"m","x":39,"y":2.532},{"s":"m","x":40.2,"y":2.472},{"s":"m","x":42.8,"y":2.51},{"s":"m","x":44.2,"y":2.499},{"s":"m","x":44.9,"y":2.551},{"s":"m","x":51.7,"y":2.455},{"s":"m","x":55.8,"y":2.379},{"s":"m","x":57.6,"y":2.401},{"s":"m","x":64.1,"y":2.534},{"s":"m","x":69.3,"y":2.564},{"s":"m","x":71.4,"y":2.57},{"s":"m","x":73.6,"y":2.559},{"s":"m","x":82,"y":2.58},{"s":"m","x":75.9,"y":2.515},{"s":"m","x":94.4,"y":2.637},{"s":"m","x":63.2,"y":2.455},{"s":"m","x":67.2,"y":2.488},{"s":"m","x":69.3,"y":2.445},{"s":"m","x":72.5,"y":2.466},{"s":"m","x":75.9,"y":2.401},{"s":"m","x":83.3,"y":2.417},{"s":"m","x":88.6,"y":2.39},{"s":"m","x":49.3,"y":2.314},{"s":"m","x":54.2,"y":2.292},{"s":"m","x":57.6,"y":2.249},{"s":"m","x":61.2,"y":2.238},{"s":"m","x":64.1,"y":2.194},{"s":"m","x":69.3,"y":2.211},{"s":"m","x":82,"y":2.227},{"s":"m","x":87.3,"y":2.249},{"s":"m","x":88.1,"y":2.153},{"s":"m","x":44.9,"y":2.004},{"s":"m","x":58.5,"y":2.004},{"s":"m","x":57.6,"y":2.102},{"s":"m","x":61.2,"y":2.091},{"s":"m","x":52.5,"y":2.162},{"s":"m","x":21.8,"y":2.184},{"s":"m","x":22.9,"y":2.249},{"s":"m","x":23.5,"y":2.336},{"s":"m","x":16.6,"y":2.102},{"s":"m","x":18.4,"y":2.189},{"s":"m","x":15.6,"y":2.243},{"s":"m","x":16.6,"y":2.233},{"s":"m","x":21.8,"y":2.015},{"s":"m","x":31.2,"y":2.254},{"s":"m","x":37.4,"y":2.189},{"s":"m","x":40.7,"y":2.211},{"s":"m","x":33.5,"y":2.091},
{"s":"f","x":4.2,"y":2.325},{"s":"f","x":4.8,"y":2.341},{"s":"f","x":3.71,"y":2.178},{"s":"f","x":3.71,"y":2.126},{"s":"f","x":3.71,"y":2.093},{"s":"f","x":4.55,"y":2.118},{"s":"f","x":4.8,"y":2.021},{"s":"f","x":7.6,"y":2.276},{"s":"f","x":8.1,"y":2.26},{"s":"f","x":7.6,"y":2.173},{"s":"f","x":9.0,"y":2.2},{"s":"f","x":11.2,"y":2.477},{"s":"f","x":11.2,"y":2.407},{"s":"f","x":12.7,"y":2.434},{"s":"f","x":11.2,"y":2.084},{"s":"f","x":13.6,"y":2.097},{"s":"f","x":14.8,"y":2.282},{"s":"f","x":14,"y":2.14},{"s":"f","x":14.8,"y":2.146},{"s":"f","x":15.5,"y":2.07},{"s":"f","x":16.3,"y":2.048},{"s":"f","x":17.8,"y":2.018},{"s":"f","x":20.8,"y":1.972},{"s":"f","x":24.4,"y":1.939},{"s":"f","x":17,"y":2.468},{"s":"f","x":24.4,"y":2.249},{"s":"f","x":24.8,"y":2.059},{"s":"f","x":39.2,"y":2.398},{"s":"f","x":40.5,"y":1.92},{"s":"f","x":39.3,"y":1.89},{"s":"f","x":47,"y":2.524},{"s":"f","x":62,"y":2.401},{"s":"f","x":79,"y":2.483},{"s":"f","x":89,"y":2.392},{"s":"f","x":72,"y":2.131},{"s":"f","x":82,"y":2.088},{"s":"f","x":95,"y":2.184},{"s":"f","x":52,"y":2.037},{"s":"f","x":57.5,"y":2.031},{"s":"f","x":47,"y":2.059},{"s":"f","x":48,"y":2.292},{"s":"f","x":53,"y":2.282},{"s":"f","x":80,"y":2.282},{"s":"f","x":82,"y":2.27},{"s":"f","x":18.9,"y":2.118},{"s":"f","x":15.3,"y":2.14},{"s":"f","x":13.5,"y":2.097},{"s":"f","x":43,"y":2.238},{"s":"f","x":46.5,"y":2.118},{"s":"f","x":61,"y":2.086},{"s":"f","x":74,"y":2.135},{"s":"f","x":83,"y":2.129},{"s":"f","x":74,"y":2.059},{"s":"f","x":81,"y":2.254},{"s":"f","x":61,"y":2.292},{"s":"f","x":15.7,"y":2.466},
{"s":"f","x":79,"y":2.053,"k":"b"},{"s":"f","x":36.9,"y":2.325,"k":"b"},{"s":"f","x":37.5,"y":2.292,"k":"b"},{"s":"f","x":35.8,"y":2.26,"k":"b"},{"s":"f","x":35.8,"y":2.205,"k":"b"},{"s":"f","x":36.9,"y":2.173,"k":"b"},{"s":"f","x":34,"y":2.195,"k":"b"},{"s":"f","x":29.2,"y":2.184,"k":"b"},{"s":"f","x":31.6,"y":2.157,"k":"b"},{"s":"f","x":46.4,"y":2.205,"k":"b"},{"s":"f","x":49.6,"y":2.216,"k":"b"},{"s":"f","x":35,"y":2.097,"k":"b"},{"s":"f","x":35.8,"y":2.064,"k":"b"},{"s":"f","x":38.2,"y":2.086,"k":"b"},{"s":"f","x":30.2,"y":2.032,"k":"b"},{"s":"f","x":33.3,"y":2.021,"k":"b"},{"s":"f","x":31.2,"y":2.0,"k":"b"},{"s":"f","x":34.1,"y":1.999,"k":"b"},{"s":"f","x":36.5,"y":2.042,"k":"b"},{"s":"f","x":77.4,"y":2.053,"k":"b"},
{"s":"f","x":28.3,"y":2.26,"k":"o"},{"s":"f","x":30.1,"y":2.314,"k":"o"},{"s":"f","x":31.8,"y":2.303,"k":"o"},{"s":"f","x":24.4,"y":2.216,"k":"o"},{"s":"f","x":26.2,"y":2.195,"k":"o"},{"s":"f","x":31.2,"y":2.151,"k":"o"},{"s":"f","x":40.5,"y":2.162,"k":"o"},{"s":"f","x":47.5,"y":2.162,"k":"o"},{"s":"f","x":55,"y":2.14,"k":"o"},{"s":"f","x":56.8,"y":2.314,"k":"o"},{"s":"f","x":62,"y":2.314,"k":"o"},{"s":"f","x":66,"y":2.227,"k":"o"},{"s":"f","x":71,"y":2.238,"k":"o"},{"s":"f","x":31.2,"y":2.064,"k":"o"},{"s":"f","x":29.2,"y":2.042,"k":"o"},{"s":"f","x":33.9,"y":2.053,"k":"o"},{"s":"f","x":31.8,"y":2.01,"k":"o"},{"s":"f","x":36.9,"y":2.021,"k":"o"},{"s":"f","x":33.3,"y":2.097,"k":"o"},{"s":"f","x":38.2,"y":2.053,"k":"o"}],
"ld":[{"s":"m","l":"A","x":0.5,"y":1.935},{"s":"m","l":"B","x":0.77,"y":2.01},{"s":"m","l":"C","x":1.75,"y":2.16},{"s":"m","l":"D","x":3.71,"y":2.282},{"s":"m","l":"E","x":5.53,"y":2.401},{"s":"m","l":"F","x":7.42,"y":2.439},{"s":"m","l":"G","x":10,"y":2.48},{"s":"m","l":"H","x":12.3,"y":2.423},{"s":"m","l":"I","x":14.3,"y":2.375},{"s":"m","l":"J","x":16.3,"y":2.341},{"s":"m","l":"K","x":18.4,"y":2.35},{"s":"m","l":"L","x":21.5,"y":2.358},{"s":"m","l":"M","x":24,"y":2.37},{"s":"m","l":"N","x":27.1,"y":2.385},{"s":"m","l":"O","x":32.1,"y":2.341},{"s":"m","l":"P","x":37.5,"y":2.363},{"s":"m","l":"Q","x":50.9,"y":2.347},{"s":"m","l":"R","x":65.1,"y":2.368},{"s":"m","l":"S","x":86,"y":2.358},
{"s":"f","l":"A","x":0.5,"y":1.892},{"s":"f","l":"B","x":0.78,"y":1.92},{"s":"f","l":"C","x":1.75,"y":2.113},{"s":"f","l":"D","x":3.71,"y":2.178},{"s":"f","l":"E","x":5.53,"y":2.216},{"s":"f","l":"F","x":7.7,"y":2.211},{"s":"f","l":"G","x":10,"y":2.292},{"s":"f","l":"H","x":12.9,"y":2.292},{"s":"f","l":"I","x":14.5,"y":2.23},{"s":"f","l":"J","x":16.3,"y":2.165},{"s":"f","l":"K","x":18.4,"y":2.124},{"s":"f","l":"L","x":21,"y":2.14},{"s":"f","l":"M","x":24,"y":2.156},{"s":"f","l":"N","x":27.1,"y":2.173},{"s":"f","l":"O","x":32.6,"y":2.14},{"s":"f","l":"P","x":39.8,"y":2.173},{"s":"f","l":"Q","x":50.9,"y":2.2},{"s":"f","l":"R","x":65.1,"y":2.233},{"s":"f","l":"S","x":86,"y":2.249}],
"dash":[{"x":0.5},{"x":10},{"x":20},{"x":40}]
},
"vconcat":[
{"width":634,"height":397,
"title":{"text":"A","orient":"left","anchor":"end","angle":0,"align":"right","baseline":"alphabetic","fontSize":36,"offset":-11,"dy":28,"frame":"group"},
"encoding":{"x":{"field":"x","type":"quantitative","scale":{"type":"log","domain":[0.333,117],"nice":false},"axis":null}},
"layer":[
{"data":{"name":"dash"},"mark":{"type":"rule","strokeDash":[16,10],"color":"#AAAAAA","strokeWidth":2.5},"encoding":{}},
{"data":{"name":"a"},"transform":[{"filter":"!datum.k"}],"mark":{"type":"circle","size":64,"opacity":1},"encoding":{"y":{"field":"y","type":"quantitative","scale":{"domain":[23.41,113.64],"nice":false,"zero":false},"axis":{"values":[30,35,40,45,50,55,60,65,70,75,80,85,90,95,100,105,110],"format":"d","labelOverlap":false,"labelExpr":"datum.value % 10 === 0 ? datum.label : ''","tickSize":{"condition":{"test":"datum.value % 10 === 0","value":9},"value":5},"labelFont":"Liberation Sans","labelFontSize":21,"labelPadding":5,"title":"Subpubic angle°","titleFontSize":28,"titleX":-88,"titleY":198.5,"titleAngle":270,"titleBaseline":"bottom","titleAlign":"center"}},"color":{"field":"s","type":"nominal","scale":{"domain":["m","f"],"range":["#558CDC","#DE5A69"]},"legend":null}}},
{"data":{"name":"a"},"transform":[{"filter":"datum.k === 'b'"}],"mark":{"type":"circle","size":330,"opacity":1,"color":"#DE5A69"},"encoding":{"y":{"field":"y","type":"quantitative"}}},
{"data":{"name":"a"},"transform":[{"filter":"datum.k === 'o'"}],"mark":{"type":"point","shape":"circle","filled":false,"size":330,"strokeWidth":2.6,"opacity":1,"color":"#DE5A69"},"encoding":{"y":{"field":"y","type":"quantitative"}}},
{"data":{"name":"la"},"mark":{"type":"text","fontSize":23,"font":"Liberation Sans","align":"center","baseline":"middle"},"encoding":{"y":{"field":"y","type":"quantitative"},"text":{"field":"l"},"color":{"field":"s","type":"nominal","scale":{"domain":["m","f"],"range":["#5F93DE","#E06676"]},"legend":null}}},
{"data":{"name":"la"},"mark":{"type":"line","strokeWidth":3.2,"strokeJoin":"round"},"encoding":{"y":{"field":"y","type":"quantitative"},"color":{"field":"s","type":"nominal","scale":{"domain":["m","f"],"range":["#1864B4","#C0250E"]},"legend":{"orient":"bottom-right","title":null,"offset":5,"padding":0,"symbolType":"stroke","symbolSize":256,"symbolStrokeWidth":3.5,"labelFontSize":20,"labelFont":"DejaVu Sans","labelOffset":3,"rowPadding":-3,"labelExpr":"datum.value === 'm' ? '♂' : '♀'","encode":{"labels":{"update":{"fill":{"signal":"datum.value === 'm' ? '#1864B4' : '#C0250E'"}}}}}}}}
],
"resolve":{"scale":{"color":"independent"}}},
{"width":634,"height":397,
"title":{"text":"B","orient":"left","anchor":"end","angle":0,"align":"right","baseline":"alphabetic","fontSize":36,"offset":-11,"dy":21,"frame":"group"},
"encoding":{"x":{"field":"x","type":"quantitative","scale":{"type":"log","domain":[0.333,117],"nice":false},"axis":null}},
"layer":[
{"data":{"name":"dash"},"mark":{"type":"rule","strokeDash":[16,10],"color":"#AAAAAA","strokeWidth":2.5},"encoding":{}},
{"data":{"name":"b"},"transform":[{"filter":"!datum.k"}],"mark":{"type":"circle","size":64,"opacity":1},"encoding":{"y":{"field":"y","type":"quantitative","scale":{"domain":[0.055865,0.073894],"nice":false,"zero":false},"axis":{"values":[0.056,0.057,0.058,0.059,0.06,0.061,0.062,0.063,0.064,0.065,0.066,0.067,0.068,0.069,0.07,0.071,0.072,0.073],"format":".3f","labelOverlap":false,"labelExpr":"round(datum.value*1000) % 2 === 0 ? datum.label : ''","tickSize":{"condition":{"test":"round(datum.value*1000) % 2 === 0","value":9},"value":5},"labelFont":"Liberation Sans","labelFontSize":21,"labelPadding":5,"title":"Transverse distance (inlet)","titleFontSize":28,"titleX":-88,"titleY":198.5,"titleAngle":270,"titleBaseline":"bottom","titleAlign":"center"}},"color":{"field":"s","type":"nominal","scale":{"domain":["m","f"],"range":["#558CDC","#DE5A69"]},"legend":null}}},
{"data":{"name":"b"},"transform":[{"filter":"datum.k === 'b'"}],"mark":{"type":"circle","size":330,"opacity":1,"color":"#DE5A69"},"encoding":{"y":{"field":"y","type":"quantitative"}}},
{"data":{"name":"b"},"transform":[{"filter":"datum.k === 'o'"}],"mark":{"type":"point","shape":"circle","filled":false,"size":330,"strokeWidth":2.6,"opacity":1,"color":"#DE5A69"},"encoding":{"y":{"field":"y","type":"quantitative"}}},
{"data":{"name":"lb"},"mark":{"type":"text","fontSize":23,"font":"Liberation Sans","align":"center","baseline":"middle"},"encoding":{"y":{"field":"y","type":"quantitative"},"text":{"field":"l"},"color":{"field":"s","type":"nominal","scale":{"domain":["m","f"],"range":["#5F93DE","#E06676"]},"legend":null}}},
{"data":{"name":"lb"},"mark":{"type":"line","strokeWidth":3.2,"strokeJoin":"round"},"encoding":{"y":{"field":"y","type":"quantitative"},"color":{"field":"s","type":"nominal","scale":{"domain":["m","f"],"range":["#1864B4","#C0250E"]},"legend":null}}}
],
"resolve":{"scale":{"color":"independent"}}},
{"width":634,"height":397,
"title":{"text":"C","orient":"left","anchor":"end","angle":0,"align":"right","baseline":"alphabetic","fontSize":36,"offset":-11,"dy":24,"frame":"group"},
"encoding":{"x":{"field":"x","type":"quantitative","scale":{"type":"log","domain":[0.333,117],"nice":false},"axis":null}},
"layer":[
{"data":{"name":"dash"},"mark":{"type":"rule","strokeDash":[16,10],"color":"#AAAAAA","strokeWidth":2.5},"encoding":{}},
{"data":{"name":"c"},"transform":[{"filter":"!datum.k"}],"mark":{"type":"circle","size":64,"opacity":1},"encoding":{"y":{"field":"y","type":"quantitative","scale":{"domain":[0.031308,0.072456],"nice":false,"zero":false},"axis":{"values":[0.035,0.0375,0.04,0.0425,0.045,0.0475,0.05,0.0525,0.055,0.0575,0.06,0.0625,0.065,0.0675,0.07],"format":".3f","labelOverlap":false,"labelExpr":"round(datum.value*400) % 2 === 0 ? datum.label : ''","tickSize":{"condition":{"test":"round(datum.value*400) % 2 === 0","value":9},"value":5},"labelFont":"Liberation Sans","labelFontSize":21,"labelPadding":5,"title":"Interspinous distance","titleFontSize":28,"titleX":-88,"titleY":198.5,"titleAngle":270,"titleBaseline":"bottom","titleAlign":"center"}},"color":{"field":"s","type":"nominal","scale":{"domain":["m","f"],"range":["#558CDC","#DE5A69"]},"legend":null}}},
{"data":{"name":"c"},"transform":[{"filter":"datum.k === 'b'"}],"mark":{"type":"circle","size":330,"opacity":1,"color":"#DE5A69"},"encoding":{"y":{"field":"y","type":"quantitative"}}},
{"data":{"name":"c"},"transform":[{"filter":"datum.k === 'o'"}],"mark":{"type":"point","shape":"circle","filled":false,"size":330,"strokeWidth":2.6,"opacity":1,"color":"#DE5A69"},"encoding":{"y":{"field":"y","type":"quantitative"}}},
{"data":{"name":"lc"},"mark":{"type":"text","fontSize":23,"font":"Liberation Sans","align":"center","baseline":"middle"},"encoding":{"y":{"field":"y","type":"quantitative"},"text":{"field":"l"},"color":{"field":"s","type":"nominal","scale":{"domain":["m","f"],"range":["#5F93DE","#E06676"]},"legend":null}}},
{"data":{"name":"lc"},"mark":{"type":"line","strokeWidth":3.2,"strokeJoin":"round"},"encoding":{"y":{"field":"y","type":"quantitative"},"color":{"field":"s","type":"nominal","scale":{"domain":["m","f"],"range":["#1864B4","#C0250E"]},"legend":null}}}
],
"resolve":{"scale":{"color":"independent"}}},
{"width":634,"height":397,
"title":{"text":"D","orient":"left","anchor":"end","angle":0,"align":"right","baseline":"alphabetic","fontSize":36,"offset":-11,"dy":22,"frame":"group"},
"encoding":{"x":{"field":"x","type":"quantitative","scale":{"type":"log","domain":[0.333,117],"nice":false},"axis":{"values":[0.4,0.5,0.6,0.7,0.8,0.9,1,2,3,4,5,6,7,8,9,10,20,30,40,50,60,70,80,90,100],"format":"~g","labelExpr":"indexof([0.5,0.7,1,2,3,4,5,7,10,20,30,50,70,100], datum.value) >= 0 ? datum.label : ''","labelFontSize":{"condition":{"test":"datum.value === 1 || datum.value === 10 || datum.value === 100","value":21},"value":15},"labelBaseline":"top","tickSize":7,"labelPadding":8,"labelFlush":false,"labelOverlap":false,"title":"age (years post-conception)","titleFontSize":28,"titlePadding":11}}},
"layer":[
{"data":{"name":"dash"},"mark":{"type":"rule","strokeDash":[16,10],"color":"#AAAAAA","strokeWidth":2.5},"encoding":{}},
{"data":{"name":"d"},"transform":[{"filter":"!datum.k"}],"mark":{"type":"circle","size":64,"opacity":1},"encoding":{"y":{"field":"y","type":"quantitative","scale":{"domain":[1.5196,2.814],"nice":false,"zero":false},"axis":{"values":[1.6,1.7,1.8,1.9,2.0,2.1,2.2,2.3,2.4,2.5,2.6,2.7],"format":".1f","labelOverlap":false,"labelExpr":"round(datum.value*10) % 2 === 0 ? datum.label : ''","tickSize":{"condition":{"test":"round(datum.value*10) % 2 === 0","value":9},"value":5},"labelFont":"Liberation Sans","labelFontSize":21,"labelPadding":5,"title":"bi-iliac/bi-acetabular distance","titleFontSize":28,"titleX":-88,"titleY":198.5,"titleAngle":270,"titleBaseline":"bottom","titleAlign":"center"}},"color":{"field":"s","type":"nominal","scale":{"domain":["m","f"],"range":["#558CDC","#DE5A69"]},"legend":null}}},
{"data":{"name":"d"},"transform":[{"filter":"datum.k === 'b'"}],"mark":{"type":"circle","size":330,"opacity":1,"color":"#DE5A69"},"encoding":{"y":{"field":"y","type":"quantitative"}}},
{"data":{"name":"d"},"transform":[{"filter":"datum.k === 'o'"}],"mark":{"type":"point","shape":"circle","filled":false,"size":330,"strokeWidth":2.6,"opacity":1,"color":"#DE5A69"},"encoding":{"y":{"field":"y","type":"quantitative"}}},
{"data":{"name":"ld"},"mark":{"type":"text","fontSize":23,"font":"Liberation Sans","align":"center","baseline":"middle"},"encoding":{"y":{"field":"y","type":"quantitative"},"text":{"field":"l"},"color":{"field":"s","type":"nominal","scale":{"domain":["m","f"],"range":["#5F93DE","#E06676"]},"legend":null}}},
{"data":{"name":"ld"},"mark":{"type":"line","strokeWidth":3.2,"strokeJoin":"round"},"encoding":{"y":{"field":"y","type":"quantitative"},"color":{"field":"s","type":"nominal","scale":{"domain":["m","f"],"range":["#1864B4","#C0250E"]},"legend":null}}}
],
"resolve":{"scale":{"color":"independent"}}}
]
}
